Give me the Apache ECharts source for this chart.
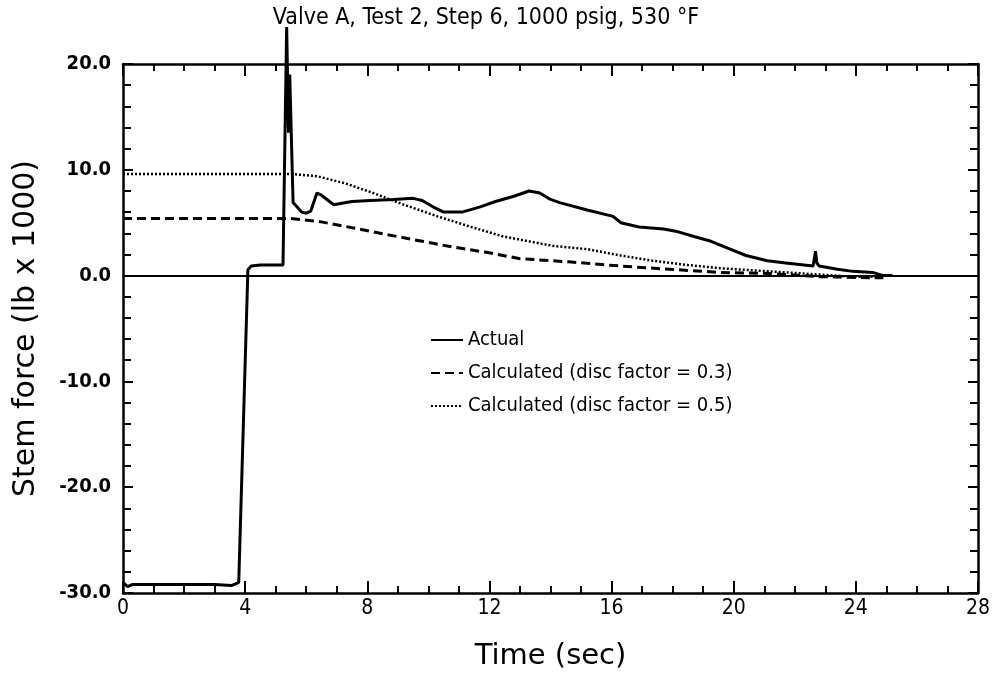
<!DOCTYPE html>
<html>
<head>
<meta charset="utf-8">
<script src="https://cdn.jsdelivr.net/npm/echarts@6/dist/echarts.min.js"></script>
<style>
  html, body { margin: 0; padding: 0; background: #fff; }
  #chart { width: 994px; height: 684px; }
</style>
</head>
<body>
<div id="chart"></div>
<script>
var FONT = "'DejaVu Sans Condensed', 'Liberation Sans Narrow', sans-serif";
var WIDE = "'DejaVu Sans', 'Liberation Sans', sans-serif";

// Actual stem force (time sec, force lb x 1000)
var actualT = [0, 0.15, 0.3, 1, 2, 3, 3.55, 3.72, 3.79, 4.09, 4.2, 4.5, 5.0, 5.24, 5.36, 5.42, 5.46, 5.57,
  5.85, 6.0, 6.15, 6.35, 6.5, 6.9, 7.3, 7.5, 8.1, 8.85, 9.5, 9.8, 10.15, 10.5, 11.1, 11.7, 12.2, 12.8, 13.3,
  13.65, 14.0, 14.3, 15.2, 16.05, 16.3, 16.9, 17.7, 18.1, 18.7, 19.2, 19.8, 20.4, 21.1, 21.7, 22.6, 22.68,
  22.72, 22.8, 23.4, 23.9, 24.55, 24.9, 25.2];
var actualY = [-29.0, -29.4, -29.2, -29.2, -29.2, -29.2, -29.3, -29.1, -29.0, 0.55, 0.9, 1.0, 1.0, 1.0, 23.5, 13.5, 19.0, 6.9,
  6.0, 5.9, 6.1, 7.8, 7.6, 6.7, 6.9, 7.0, 7.1, 7.2, 7.3, 7.1, 6.5, 6.0, 6.0, 6.5, 7.0, 7.5, 8.0,
  7.8, 7.2, 6.9, 6.2, 5.6, 5.0, 4.6, 4.4, 4.2, 3.7, 3.3, 2.6, 1.9, 1.4, 1.2, 0.9, 2.3,
  1.2, 0.9, 0.6, 0.4, 0.3, 0.0, 0.0];

// Calculated, disc factor = 0.3
var calc3T = [0, 2, 4, 5.5, 6.45, 7.55, 8.6, 9.7, 10.8, 11.9, 13.0, 14.6, 16.3, 17.9, 19.55, 21.2, 22.8, 24.5, 24.9];
var calc3Y = [5.4, 5.4, 5.4, 5.4, 5.1, 4.5, 3.9, 3.3, 2.7, 2.2, 1.6, 1.3, 0.9, 0.6, 0.3, 0.2, -0.1, -0.2, -0.2];

// Calculated, disc factor = 0.5
var calc5T = [0, 2, 4, 5.5, 6.35, 7.3, 8.2, 9.2, 10.3, 11.4, 12.45, 13.0, 14.1, 15.2, 16.3, 17.35, 18.5, 19.55, 20.6, 21.7, 22.8, 23.9, 24.8];
var calc5Y = [9.6, 9.6, 9.6, 9.6, 9.4, 8.7, 7.8, 6.7, 5.6, 4.6, 3.7, 3.4, 2.8, 2.5, 1.9, 1.4, 1.0, 0.7, 0.5, 0.3, 0.1, -0.1, -0.1];

var names = ['Actual', 'Calculated (disc factor = 0.3)', 'Calculated (disc factor = 0.5)'];

function pairs(t, y) {
  var out = [];
  for (var i = 0; i < t.length; i++) {
    out.push([t[i], y[i]]);
  }
  return out;
}

var chart = echarts.init(document.getElementById('chart'));

var tickX = { show: true, inside: true, length: 12, lineStyle: { color: '#000', width: 2 } };
var minorX = { show: true, splitNumber: 4, length: 7, lineStyle: { color: '#000', width: 2 } };
var tickY = { show: true, inside: true, length: 10, lineStyle: { color: '#000', width: 2 } };
var minorY = { show: true, splitNumber: 5, length: 8, lineStyle: { color: '#000', width: 2 } };
var axLine = { show: true, onZero: false, lineStyle: { color: '#000', width: 2.5 } };

var option = {
  backgroundColor: '#fff',
  animation: false,
  title: {
    text: 'Valve A, Test 2, Step 6, 1000 psig, 530 °F',
    left: 481,
    textAlign: 'center',
    top: 2,
    textStyle: { fontFamily: FONT, fontSize: 23, fontWeight: 'normal', color: '#000' }
  },
  legend: {
    orient: 'vertical',
    left: 425,
    top: 325,
    itemWidth: 32,
    itemHeight: 14,
    itemGap: 13,
    data: names,
    itemStyle: { opacity: 0 },
    textStyle: { fontFamily: FONT, fontSize: 20, color: '#000' }
  },
  grid: { left: 123, right: 16, top: 64, bottom: 91 },
  xAxis: [{
    type: 'value',
    min: 0, max: 28, interval: 4,
    name: 'Time (sec)',
    nameLocation: 'middle',
    nameGap: 49,
    nameTextStyle: { fontFamily: WIDE, fontSize: 29, color: '#000' },
    axisLine: axLine,
    axisTick: tickX,
    minorTick: minorX,
    splitLine: { show: false },
    axisLabel: { margin: 5, fontFamily: FONT, fontSize: 21, color: '#000' }
  }, {
    type: 'value',
    position: 'top',
    min: 0, max: 28, interval: 4,
    axisLine: axLine,
    axisTick: tickX,
    minorTick: minorX,
    splitLine: { show: false },
    axisLabel: { show: false }
  }],
  yAxis: [{
    type: 'value',
    min: -30, max: 20, interval: 10,
    name: 'Stem force (lb x 1000)',
    nameLocation: 'middle',
    nameGap: 82,
    nameTextStyle: { fontFamily: WIDE, fontSize: 30, color: '#000' },
    axisLine: axLine,
    axisTick: tickY,
    minorTick: minorY,
    splitLine: { show: false },
    axisLabel: {
      margin: 12,
      fontFamily: FONT, fontSize: 20, color: '#000', fontWeight: 'bold',
      formatter: function (v) { return v.toFixed(1); }
    }
  }, {
    type: 'value',
    position: 'right',
    min: -30, max: 20, interval: 10,
    axisLine: axLine,
    axisTick: tickY,
    minorTick: minorY,
    splitLine: { show: false },
    axisLabel: { show: false }
  }],
  series: [{
    name: names[0],
    type: 'line',
    data: pairs(actualT, actualY),
    symbol: 'none',
    clip: false,
    color: '#000',
    lineStyle: { color: '#000', width: 3 },
    markLine: {
      silent: true,
      symbol: 'none',
      label: { show: false },
      lineStyle: { color: '#000', width: 2, type: 'solid' },
      data: [{ yAxis: 0 }]
    },
    z: 3
  }, {
    name: names[1],
    type: 'line',
    data: pairs(calc3T, calc3Y),
    symbol: 'none',
    color: '#000',
    lineStyle: { color: '#000', width: 3, type: [9, 5] }
  }, {
    name: names[2],
    type: 'line',
    data: pairs(calc5T, calc5Y),
    symbol: 'none',
    color: '#000',
    lineStyle: { color: '#000', width: 2.5, type: [2, 2] }
  }]
};

chart.setOption(option);
</script>
</body>
</html>
